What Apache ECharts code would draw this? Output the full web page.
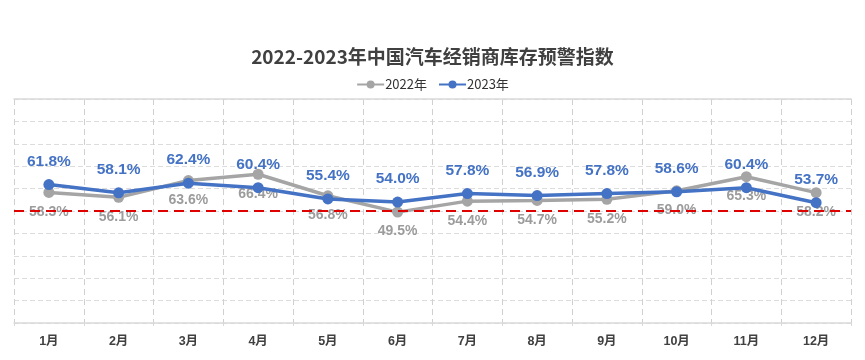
<!DOCTYPE html>
<html><head><meta charset="utf-8">
<script src="https://cdn.jsdelivr.net/npm/echarts@6/dist/echarts.min.js"></script>
<style>html,body{margin:0;padding:0;background:#fff}#c{width:865px;height:360px}</style>
</head><body><div id="c"></div>
<script>
const categories = ['1月','2月','3月','4月','5月','6月','7月','8月','9月','10月','11月','12月'];
const values2022 = [58.3, 56.1, 63.6, 66.4, 56.8, 49.5, 54.4, 54.7, 55.2, 59.0, 65.3, 58.2];
const values2023 = [61.8, 58.1, 62.4, 60.4, 55.4, 54.0, 57.8, 56.9, 57.8, 58.6, 60.4, 53.7];
const warningLine = 50;
const seriesNames = ['2022年', '2023年'];

const chart = echarts.init(document.getElementById('c'));
const lab = '"Liberation Sans", Arial, "Noto Sans CJK SC", sans-serif';
chart.setOption({
  animation: false,
  backgroundColor: '#fff',
  title: {
    text: '2022-2023年中国汽车经销商库存预警指数',
    left: 'center', top: 42,
    textStyle: { fontSize: 19, fontWeight: 'bold', color: '#404040', fontFamily: '"Noto Sans CJK SC", sans-serif' }
  },
  legend: {
    top: 73, left: 'center', itemWidth: 27, itemHeight: 10, itemGap: 11,
    textStyle: { fontSize: 13, color: '#333', fontFamily: '"Noto Sans CJK SC", sans-serif', padding: [0,0,0,-4] },
    data: seriesNames
  },
  grid: { left: 14, right: 14, top: 99, bottom: 37 },
  xAxis: [{
    type: 'category', data: categories, boundaryGap: true,
    axisLine: { lineStyle: { color: '#d9d9d9', width: 1.5 } },
    axisTick: { show: true, length: 3, lineStyle: { color: '#d9d9d9' } },
    axisLabel: { fontSize: 12.5, fontWeight: 'bold', color: '#404040', fontFamily: lab, margin: 12 },
    splitLine: { show: true, interval: 0, lineStyle: { color: '#d0d0d0', type: [6, 4], width: 1 } }
  }, {
    type: 'category', data: categories, position: 'top',
    axisLine: { lineStyle: { color: '#d9d9d9', width: 1.5 } },
    axisTick: { show: false }, axisLabel: { show: false }, splitLine: { show: false }
  }],
  yAxis: {
    type: 'value', min: 0, max: 100, interval: 10,
    axisLabel: { show: false }, axisLine: { show: false }, axisTick: { show: false },
    splitLine: { show: true, lineStyle: { color: '#dcdcdc', type: [5, 3], width: 1 } }
  },
  series: [{
    name: seriesNames[0], type: 'line', data: values2022, z: 2,
    symbol: 'circle', symbolSize: 11,
    itemStyle: { color: '#a5a5a5' },
    lineStyle: { color: '#a5a5a5', width: 3.5 },
    label: {
      show: true, position: 'bottom', distance: 7,
      formatter: p => p.value.toFixed(1) + '%',
      fontSize: 14, fontWeight: 'bold', color: '#9c9c9c', fontFamily: lab
    }
  }, {
    name: seriesNames[1], type: 'line', data: values2023, z: 3,
    symbol: 'circle', symbolSize: 11,
    itemStyle: { color: '#4472c4' },
    lineStyle: { color: '#4472c4', width: 3.5 },
    label: {
      show: true, position: 'top', distance: 10,
      formatter: p => p.value.toFixed(1) + '%',
      fontSize: 15.5, fontWeight: 'bold', color: '#4472c4', fontFamily: lab
    }
  }, {
    name: 'warning', type: 'line', data: [], z: 10, silent: true,
    markLine: {
      silent: true, symbol: 'none', label: { show: false },
      lineStyle: { color: '#e00000', type: [10, 6], width: 2 },
      data: [{ yAxis: warningLine }]
    }
  }]
});
</script></body></html>
